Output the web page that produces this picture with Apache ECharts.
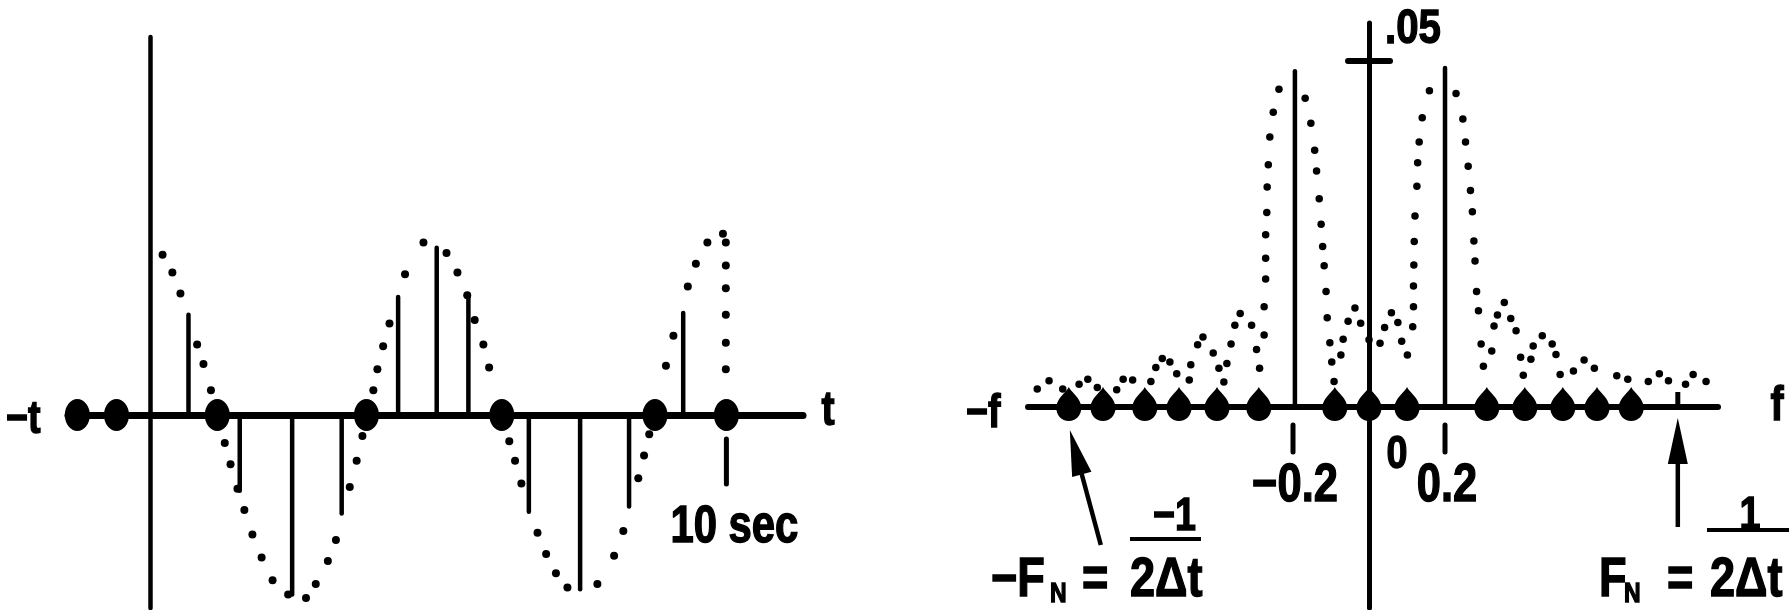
<!DOCTYPE html>
<html><head><meta charset="utf-8">
<script src="https://cdn.jsdelivr.net/npm/echarts@6/dist/echarts.min.js"></script>
<style>html,body{margin:0;padding:0;background:#fff}#c{width:1789px;height:610px}</style>
</head><body><div id="c"></div>
<script>
// ---------- time-domain panel ----------
const sampleTimes  = [0.66, 1.55, 2.46, 3.32, 4.30, 4.97, 5.52, 6.57, 7.46, 8.31, 9.25];
const sampleValues = [0.57, -0.43, -1.02, -0.56, 0.67, 0.95, 0.68, -0.55, -0.99, -0.52, 0.58];
const zeroSampleTimes = [-1.27, -0.59, 1.16, 3.75, 6.10, 8.76, 10.0];
const timeCurveDots = [
  [0.21,0.91],[0.38,0.81],[0.52,0.69],[0.81,0.40],[0.92,0.29],[1.05,0.14],[1.29,-0.16],[1.39,-0.28],
  [1.51,-0.42],[1.63,-0.54],[1.77,-0.68],[1.93,-0.81],[2.12,-0.94],[2.39,-1.02],[2.70,-1.04],[2.87,-0.96],
  [3.08,-0.83],[3.22,-0.71],[3.46,-0.41],[3.58,-0.26],[3.68,-0.12],[3.87,0.14],[3.94,0.26],[4.04,0.39],
  [4.15,0.52],[4.42,0.80],[4.74,0.98],[5.14,0.92],[5.33,0.81],[5.50,0.68],[5.63,0.54],[5.78,0.40],
  [5.88,0.27],[6.23,-0.15],[6.33,-0.26],[6.44,-0.39],[6.72,-0.67],[6.87,-0.79],[7.04,-0.90],[7.24,-0.98],
  [7.76,-0.96],[8.05,-0.80],[8.21,-0.66],[8.47,-0.36],[8.57,-0.23],[8.66,-0.11],[8.95,0.28],[9.08,0.45],
  [9.33,0.73],[9.47,0.86],[9.67,0.98],[9.94,1.03],[9.99,0.98],[9.99,0.85],[9.99,0.72],[9.99,0.57],
  [9.99,0.41],[9.99,0.26]
];
const timeTickValues = [10];
const timeTickLabels = ['10 sec'];

// ---------- frequency-domain panel ----------
const lineFreqs = [-0.195, 0.2];
const lineAmps  = [0.0485, 0.0490];
const zeroSampleFreqs = [-0.79, -0.70, -0.59, -0.50, -0.40, -0.29, -0.09, 0, 0.10, 0.31, 0.41, 0.51, 0.60, 0.69];
const spectrumDots = [
  [-0.873,0.0026],[-0.842,0.0038],[-0.806,0.0026],[-0.763,0.0033],[-0.740,0.0040],[-0.715,0.0028],
  [-0.664,0.0025],[-0.647,0.0040],[-0.622,0.0039],[-0.574,0.0037],[-0.561,0.0057],[-0.544,0.0070],
  [-0.524,0.0065],[-0.506,0.0048],[-0.473,0.0039],[-0.469,0.0061],[-0.451,0.0090],[-0.437,0.0101],
  [-0.410,0.0078],[-0.395,0.0056],[-0.382,0.0036],[-0.374,0.0063],[-0.363,0.0091],[-0.353,0.0118],
  [-0.339,0.0135],[-0.309,0.0118],[-0.296,0.0083],[-0.288,0.0056],
  [-0.276,0.0104],[-0.276,0.0145],[-0.272,0.0185],[-0.272,0.0215],[-0.272,0.0249],[-0.269,0.0281],
  [-0.268,0.0318],[-0.265,0.0350],[-0.261,0.0390],[-0.252,0.0426],[-0.237,0.0459],
  [-0.168,0.0446],[-0.153,0.0410],[-0.143,0.0371],[-0.138,0.0341],[-0.131,0.0301],[-0.126,0.0264],
  [-0.122,0.0232],[-0.118,0.0204],[-0.113,0.0167],[-0.110,0.0129],[-0.103,0.0093],[-0.098,0.0065],
  [-0.092,0.0037],
  [-0.074,0.0075],[-0.068,0.0098],[-0.055,0.0124],[-0.037,0.0143],[-0.022,0.0121],[0.000,0.0097],
  [0.029,0.0092],[0.041,0.0115],[0.059,0.0136],[0.076,0.0122],[0.086,0.0095],[0.101,0.0075],
  [0.115,0.0116],[0.117,0.0145],[0.117,0.0175],[0.118,0.0205],[0.119,0.0239],[0.121,0.0276],
  [0.126,0.0319],[0.128,0.0353],[0.132,0.0383],[0.140,0.0418],[0.159,0.0457],
  [0.229,0.0453],[0.247,0.0416],[0.254,0.0383],[0.261,0.0348],[0.267,0.0313],[0.272,0.0282],
  [0.276,0.0240],[0.279,0.0211],[0.283,0.0167],[0.288,0.0139],[0.295,0.0091],[0.301,0.0059],
  [0.323,0.0081],[0.329,0.0117],[0.338,0.0133],[0.356,0.0151],[0.373,0.0128],[0.387,0.0110],
  [0.399,0.0072],[0.406,0.0046],[0.426,0.0069],[0.432,0.0088],[0.456,0.0103],[0.482,0.0091],
  [0.492,0.0076],[0.503,0.0047],[0.538,0.0052],[0.566,0.0068],[0.593,0.0056],[0.652,0.0045],
  [0.681,0.0040],[0.735,0.0037],[0.764,0.0048],[0.788,0.0038],[0.833,0.0033],[0.853,0.0047],
  [0.887,0.0037]
];
const freqTickValues = [-0.2, 0.2];
const freqTickLabels = ['\u22120.2', '0.2'];
const ampTickValues = [0.05];
const ampTickLabels = ['.05'];
const nyquistFreqs = [-0.79, 0.81];

// ---------- chart ----------
const F = "'Liberation Sans', Arial, sans-serif";
const NARROW = 0.82;
const chart = echarts.init(document.getElementById('c'), null, {renderer: 'canvas'});
const hidden = {axisTick: {show: false}, axisLabel: {show: false}, splitLine: {show: false}};
const txtStyle = (text, size, align) => ({text: text, fontSize: size, fontWeight: 'bold', fontFamily: F,
  fill: '#000', stroke: '#000', lineWidth: 1.4, align: align || 'left', verticalAlign: 'middle'});
const txt = (text, x, y, size, align) => ({
  type: 'text', x: x, y: y, z: 100, scaleX: NARROW, style: txtStyle(text, size, align)
});
const dropShape = 'path://M12,0 C14,5 24,11 24,20 C24,28 19,33 12,33 C5,33 0,28 0,20 C0,11 10,5 12,0 Z';
const solid = {color: '#000', opacity: 1};

const stemRender = (w) => (params, api) => {
  const p0 = api.coord([api.value(0), 0]);
  const p1 = api.coord([api.value(0), api.value(1)]);
  return {type: 'line', shape: {x1: p0[0], y1: p0[1], x2: p1[0], y2: p1[1]},
          style: {stroke: '#000', lineWidth: w, lineCap: 'round'}};
};

const arrowGeom = [{dx: 31, tip: 23, tail: 138}, {dx: 0, tip: 11, tail: 120}];

const option = {
  backgroundColor: '#fff',
  animation: false,
  grid: [
    {left: 68, top: 37, width: 735, height: 571, outerBoundsMode: 'none'},
    {left: 1028, top: 23, width: 690, height: 585, outerBoundsMode: 'none'}
  ],
  xAxis: [
    Object.assign({type: 'value', gridIndex: 0, min: -1.432, max: 11.33,
      axisLine: {show: true, onZero: true, lineStyle: {color: '#000', width: 7}}}, hidden),
    Object.assign({type: 'value', gridIndex: 1, min: -0.8974, max: 0.9184,
      axisLine: {show: true, onZero: true, lineStyle: {color: '#000', width: 6}}}, hidden)
  ],
  yAxis: [
    Object.assign({type: 'value', gridIndex: 0, min: -1.097, max: 2.148,
      axisLine: {show: true, onZero: true, lineStyle: {color: '#000', width: 4.5}}}, hidden),
    Object.assign({type: 'value', gridIndex: 1, min: -0.02905, max: 0.05549,
      axisLine: {show: true, onZero: true, lineStyle: {color: '#000', width: 5}}}, hidden)
  ],
  series: [
    // time panel stems
    {type: 'custom', xAxisIndex: 0, yAxisIndex: 0, encode: {x: 0, y: 1}, z: 3,
     data: sampleTimes.map((t, i) => [t, sampleValues[i]]), renderItem: stemRender(4.5)},
    // time panel zero-valued samples
    {type: 'scatter', xAxisIndex: 0, yAxisIndex: 0, z: 4, symbol: 'circle', symbolSize: [25, 32],
     itemStyle: solid, data: zeroSampleTimes.map(t => [t, 0])},
    // time panel continuous curve (dotted)
    {type: 'scatter', xAxisIndex: 0, yAxisIndex: 0, z: 5, symbol: 'circle', symbolSize: 8,
     itemStyle: solid, data: timeCurveDots},
    // time tick + label
    {type: 'custom', xAxisIndex: 0, yAxisIndex: 0, encode: {x: 0}, z: 6,
     data: timeTickValues.map(v => [v]),
     renderItem: (params, api) => {
       const p = api.coord([api.value(0), 0]);
       return {type: 'group', children: [
         {type: 'line', shape: {x1: p[0], y1: p[1] + 24, x2: p[0], y2: p[1] + 69},
          style: {stroke: '#000', lineWidth: 5, lineCap: 'round'}},
         {type: 'text', x: p[0] + 8, y: p[1] + 113, scaleX: NARROW,
          style: txtStyle(timeTickLabels[params.dataIndex], 51, 'center')}
       ]};
     }},
    // spectrum lines
    {type: 'custom', xAxisIndex: 1, yAxisIndex: 1, encode: {x: 0, y: 1}, z: 3,
     data: lineFreqs.map((f, i) => [f, lineAmps[i]]), renderItem: stemRender(4.5)},
    // spectrum zero-valued samples
    {type: 'scatter', xAxisIndex: 1, yAxisIndex: 1, z: 4, symbol: dropShape, symbolSize: [25, 34],
     symbolOffset: [0, -3], itemStyle: solid, data: zeroSampleFreqs.map(f => [f, 0])},
    // continuous spectrum (dotted)
    {type: 'scatter', xAxisIndex: 1, yAxisIndex: 1, z: 5, symbol: 'circle', symbolSize: 7.5,
     itemStyle: solid, data: spectrumDots},
    // frequency ticks + labels
    {type: 'custom', xAxisIndex: 1, yAxisIndex: 1, encode: {x: 0}, z: 6,
     data: freqTickValues.map(v => [v]),
     renderItem: (params, api) => {
       const p = api.coord([api.value(0), 0]);
       return {type: 'group', children: [
         {type: 'line', shape: {x1: p[0], y1: p[1] + 18, x2: p[0], y2: p[1] + 45},
          style: {stroke: '#000', lineWidth: 5, lineCap: 'round'}},
         {type: 'text', x: p[0] + 2, y: p[1] + 79, scaleX: NARROW,
          style: txtStyle(freqTickLabels[params.dataIndex], 53, 'center')}
       ]};
     }},
    // amplitude tick + label
    {type: 'custom', xAxisIndex: 1, yAxisIndex: 1, encode: {x: 0, y: 1}, z: 6,
     data: ampTickValues.map(v => [0, v]),
     renderItem: (params, api) => {
       const p = api.coord([0, api.value(1)]);
       return {type: 'group', children: [
         {type: 'line', shape: {x1: p[0] - 21, y1: p[1], x2: p[0] + 21, y2: p[1]},
          style: {stroke: '#000', lineWidth: 6, lineCap: 'round'}},
         {type: 'text', x: p[0] + 16, y: p[1] - 32, scaleX: NARROW,
          style: txtStyle(ampTickLabels[params.dataIndex], 49, 'left')}
       ]};
     }},
    // Nyquist arrows
    {type: 'custom', xAxisIndex: 1, yAxisIndex: 1, encode: {x: 0}, z: 6,
     data: nyquistFreqs.map(v => [v]),
     renderItem: (params, api) => {
       const p = api.coord([api.value(0), 0]);
       const g = arrowGeom[params.dataIndex];
       const tip = [p[0] + 1, p[1] + g.tip];
       const tail = [p[0] + 1 + g.dx, p[1] + g.tail];
       const dx = tip[0] - tail[0], dy = tip[1] - tail[1];
       const len = Math.sqrt(dx * dx + dy * dy);
       const ux = dx / len, uy = dy / len, nx = -uy, ny = ux;
       const L = 46, W = 10;
       const base = [tip[0] - ux * L, tip[1] - uy * L];
       return {type: 'group', children: [
         {type: 'line', shape: {x1: p[0] + 1, y1: p[1], x2: p[0] + 1, y2: p[1] - 15},
          style: {stroke: '#000', lineWidth: 5}},
         {type: 'line', shape: {x1: tail[0], y1: tail[1], x2: base[0] + ux * 4, y2: base[1] + uy * 4},
          style: {stroke: '#000', lineWidth: 4.5}},
         {type: 'polygon', shape: {points: [tip, [base[0] + nx * W, base[1] + ny * W],
                                            [base[0] - nx * W, base[1] - ny * W]]},
          style: {fill: '#000'}}
       ]};
     }}
  ],
  graphic: [
    txt('\u2212t', 6, 420, 46),
    txt('t', 828, 412, 48, 'center'),
    txt('\u2212f', 966, 414, 46),
    txt('f', 1777, 407, 48, 'center'),
    txt('0', 1397, 455, 46, 'center'),
    txt('\u22121', 1196, 517, 46, 'right'),
    {type: 'line', z: 100, shape: {x1: 1130, y1: 539, x2: 1201, y2: 539}, style: {stroke: '#000', lineWidth: 4}},
    txt('\u2212F', 991, 581, 55),
    txt('N', 1050, 594, 28),
    txt('=', 1082, 581, 55),
    txt('2\u0394t', 1130, 581, 55),
    txt('1', 1750, 516, 46, 'center'),
    {type: 'line', z: 100, shape: {x1: 1707, y1: 530, x2: 1789, y2: 530}, style: {stroke: '#000', lineWidth: 4}},
    txt('F', 1599, 581, 55),
    txt('N', 1624, 594, 28),
    txt('=', 1667, 581, 55),
    txt('2\u0394t', 1710, 581, 55)
  ]
};
chart.setOption(option);
</script>
</body></html>
